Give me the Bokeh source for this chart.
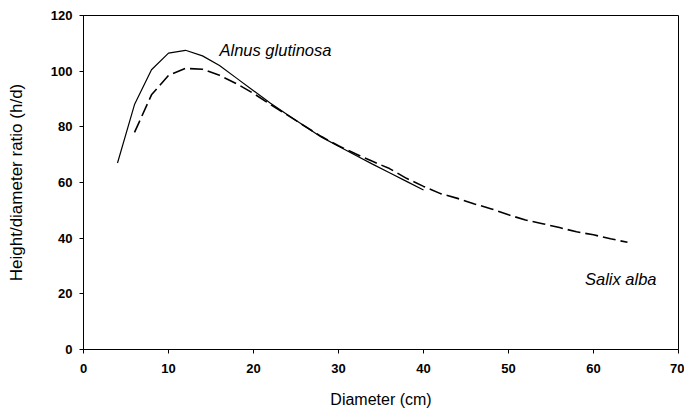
from bokeh.plotting import figure
from bokeh.models import Range1d, SingleIntervalTicker, Label
from bokeh.embed import file_html
from bokeh.resources import INLINE

# Alnus glutinosa (solid line)
alnus_d = [4, 6, 8, 10, 12, 14, 16, 18, 20, 22, 24, 26, 28, 30, 32, 34, 36, 38, 40]
alnus_hd = [67, 88, 100.5, 106.5, 107.5, 105.5, 102, 97.5, 93, 88.5, 84.3, 80.3,
            76.3, 73, 69.8, 66.6, 63.5, 60.4, 57.3]

# Salix alba (dashed line)
salix_d = [6, 8, 10, 12, 14, 16, 18, 20, 22, 24, 26, 28, 30, 32, 34, 36, 38, 40,
           42, 44, 46, 48, 50, 52, 54, 56, 58, 60, 62, 64]
salix_hd = [78, 91.5, 98.5, 101, 100.7, 98.5, 95.5, 92, 88, 84.2, 80.3, 76.5,
            73.2, 70.3, 67.6, 65, 61.5, 58.6, 56, 54.3, 52.3, 50.5, 48.4, 46.5,
            45.2, 43.8, 42.3, 41.2, 39.8, 38.5]

x_title = "Diameter (cm)"
y_title = "Height/diameter ratio (h/d)"
label_alnus = "Alnus glutinosa"
label_salix = "Salix alba"

FONT = "Liberation Sans"

p = figure(width=684, height=411, output_backend="svg", toolbar_location=None,
           x_range=Range1d(0, 70), y_range=Range1d(0, 120),
           min_border_left=83, min_border_right=6, min_border_top=15,
           min_border_bottom=62)
p.background_fill_color = "white"
p.border_fill_color = "white"
p.outline_line_color = "black"
p.outline_line_width = 1
p.outline_line_alpha = 1
p.grid.visible = False

p.xaxis.ticker = SingleIntervalTicker(interval=10, num_minor_ticks=0)
p.yaxis.ticker = SingleIntervalTicker(interval=20, num_minor_ticks=0)

for ax in (p.xaxis[0], p.yaxis[0]):
    ax.axis_line_color = "black"
    ax.axis_line_width = 1
    ax.major_tick_line_color = "black"
    ax.major_tick_in = 0
    ax.major_tick_out = 4
    ax.minor_tick_line_color = None
    ax.major_label_text_font = FONT
    ax.major_label_text_font_style = "bold"
    ax.major_label_text_font_size = "13px"
    ax.major_label_text_color = "black"
    ax.axis_label_text_font = FONT
    ax.axis_label_text_font_style = "normal"
    ax.axis_label_text_color = "black"

p.xaxis.axis_label = x_title
p.xaxis.axis_label_text_font_size = "16px"
p.xaxis.major_label_standoff = 10
p.xaxis.axis_label_standoff = 15

p.yaxis.axis_label = y_title
p.yaxis.axis_label_text_font_size = "17px"
p.yaxis.major_label_standoff = 7
p.yaxis.axis_label_standoff = 22

p.line(alnus_d, alnus_hd, line_color="black", line_width=1.2)
p.line(salix_d, salix_hd, line_color="black", line_width=1.6, line_dash="13 5")

p.add_layout(Label(x=16, y=107.5, text=label_alnus, text_font=FONT,
                   text_font_style="italic", text_font_size="16.5px",
                   text_color="black", text_baseline="alphabetic"))
p.add_layout(Label(x=59, y=25.3, text=label_salix, text_font=FONT,
                   text_font_style="italic", text_font_size="16.5px",
                   text_color="black", text_baseline="alphabetic"))

open("out.html", "w").write(file_html(p, INLINE))
